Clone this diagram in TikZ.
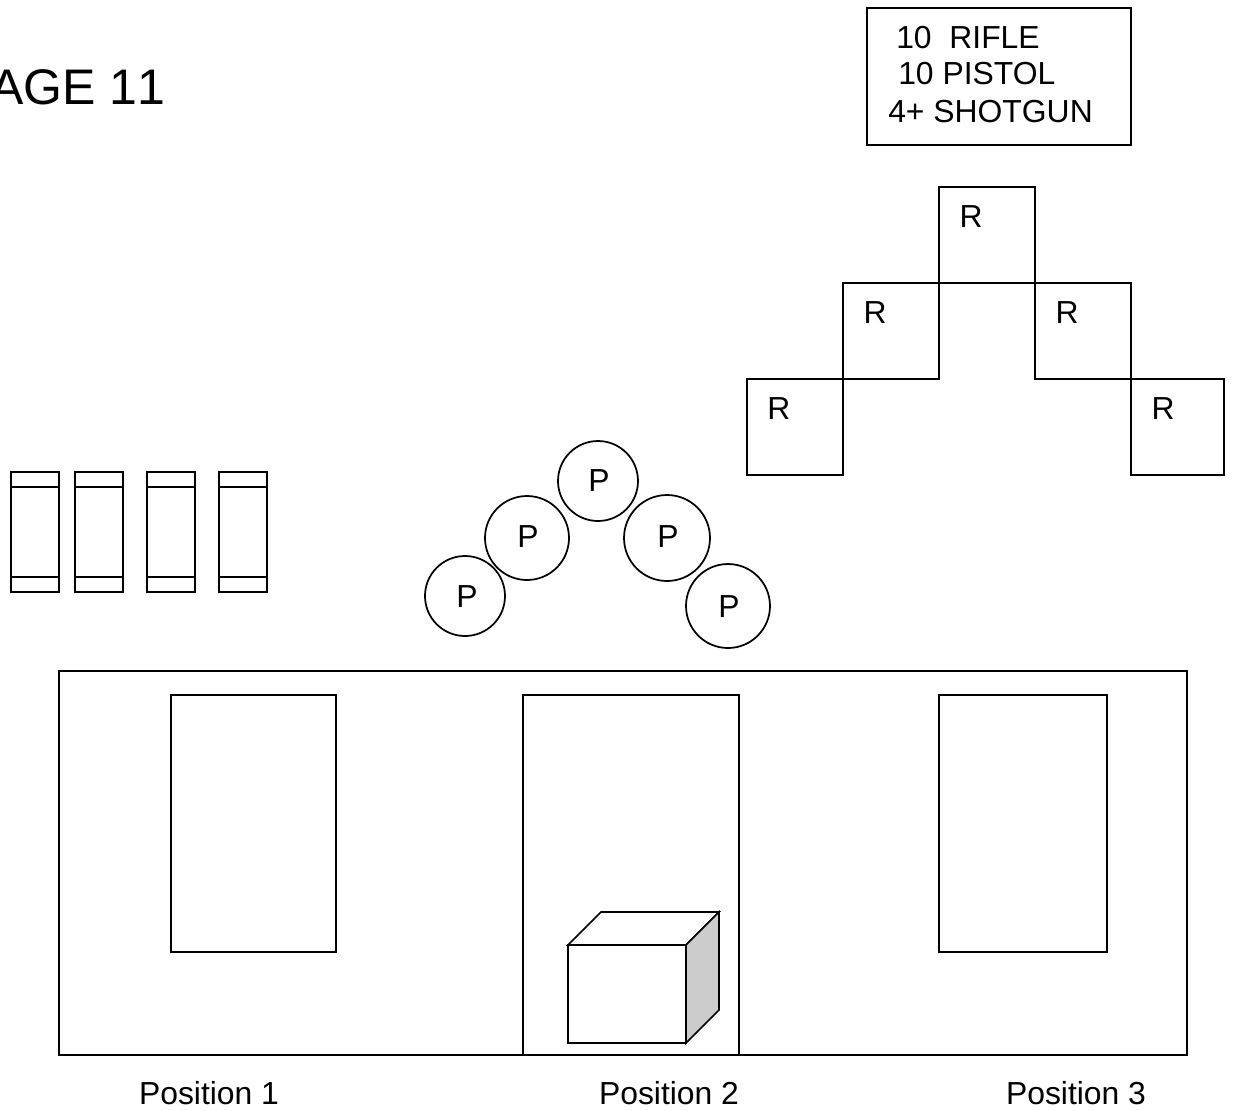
\documentclass[tikz,border=0pt]{standalone}
\usepackage{fontspec}
\setmainfont{Liberation Sans}
\tikzset{x=0.75pt,y=-0.75pt,
 shape line/.style={draw=black,line width=1.3pt,line join=miter},
 cellbox/.style={shape line,fill=white},
 lab/.style={inner sep=0pt,font=\fontsize{23.9}{28}\selectfont,text=black},
 plab/.style={circle,shape line,fill=white,inner sep=0pt}
}
\begin{document}
\begin{tikzpicture}
\useasboundingbox (0,0) rectangle (1233,1111);
\node[lab,font=\fontsize{37.5}{40}\selectfont\addfontfeatures{Kerning=Off},anchor=base west] (title) at (-10,104) {AGE 11};
% info box
\draw[cellbox] (867,8) rectangle (1131,145);
\node[lab,anchor=base west] (t1) at (896,48) {10\ \ RIFLE};
\node[lab,anchor=base west] (t2) at (898,84) {10 PISTOL};
\node[lab,anchor=base west] (t3) at (888,122) {4+ SHOTGUN};
% R boxes
\draw[cellbox] (939,187) rectangle (1035,283);
\draw[cellbox] (843,283) rectangle (939,379);
\draw[cellbox] (1035,283) rectangle (1131,379);
\draw[cellbox] (747,379) rectangle (843,475);
\draw[cellbox] (1131,379) rectangle (1224,475);
\node[lab,anchor=base] (r1) at (971,227) {R};
\node[lab,anchor=base] (r2) at (875,323) {R};
\node[lab,anchor=base] (r3) at (1067,323) {R};
\node[lab,anchor=base] (r4) at (779,419) {R};
\node[lab,anchor=base] (r5) at (1163,419) {R};
% barrels
\foreach \xx in {11,75,147,219}{
 \draw[cellbox] (\xx,472) rectangle ++(48,120);
 \draw[shape line] (\xx,487) -- ++(48,0);
 \draw[shape line] (\xx,577) -- ++(48,0);
}
% P circles
\node[plab,minimum size=60pt] (p1) at (465,596) {};
\node[plab,minimum size=63pt] (p2) at (527,538) {};
\node[plab,minimum size=60pt] (p3) at (598,481) {};
\node[plab,minimum size=64.5pt] (p4) at (667,538) {};
\node[plab,minimum size=63pt] (p5) at (728,606) {};
\node[lab,anchor=base] (pt1) at (467,607) {P};
\node[lab,anchor=base] (pt2) at (528,547) {P};
\node[lab,anchor=base] (pt3) at (599,491) {P};
\node[lab,anchor=base] (pt4) at (668,547) {P};
\node[lab,anchor=base] (pt5) at (729,617) {P};
% wall
\draw[shape line] (59,671) rectangle (1187,1055);
\draw[shape line] (171,695) rectangle (336,952);
\draw[shape line] (523,1055) -- (523,695) -- (739,695) -- (739,1055);
\draw[shape line] (939,695) rectangle (1107,952);
% cube
\draw[shape line,fill=white] (568,945) -- (601,912) -- (719,912) -- (686,945) -- cycle;
\draw[shape line,fill=black!20] (686,945) -- (719,912) -- (719,1010) -- (686,1043) -- cycle;
\draw[shape line,fill=white] (568,945) rectangle (686,1043);
\node[lab,anchor=base] (l1) at (209,1104) {Position 1};
\node[lab,anchor=base] (l2) at (669,1104) {Position 2};
\node[lab,anchor=base] (l3) at (1076,1104) {Position 3};
\end{tikzpicture}
\end{document}
